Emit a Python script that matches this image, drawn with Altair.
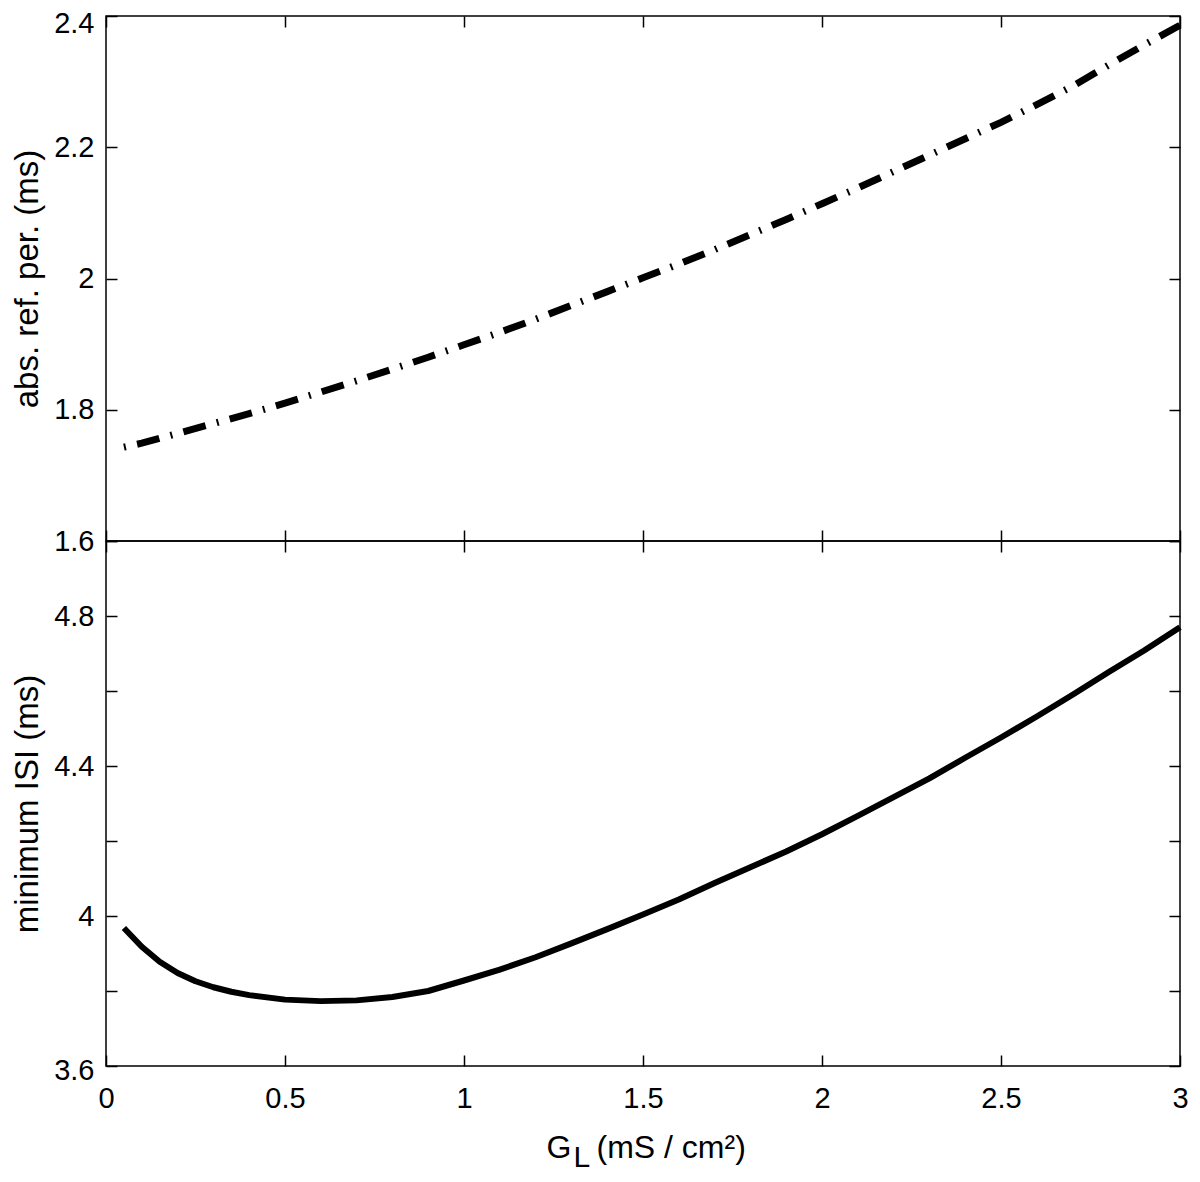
import altair as alt
import pandas as pd

# ---- data ----
gl_top = [0.05, 0.1, 0.2, 0.3, 0.4, 0.5, 0.6, 0.7, 0.8, 0.9, 1.0, 1.1, 1.2, 1.3,
          1.4, 1.5, 1.6, 1.7, 1.8, 1.9, 2.0, 2.1, 2.2, 2.3, 2.4, 2.5, 2.6, 2.7,
          2.8, 2.9, 3.0]
abs_ref = [1.743, 1.749, 1.764, 1.779, 1.794, 1.810, 1.827, 1.844, 1.862, 1.880,
           1.899, 1.918, 1.938, 1.959, 1.980, 2.001, 2.022, 2.044, 2.067, 2.090,
           2.114, 2.138, 2.163, 2.188, 2.213, 2.238, 2.265, 2.293, 2.325, 2.356,
           2.386]

gl_bottom = [0.05, 0.1, 0.15, 0.2, 0.25, 0.3, 0.35, 0.4, 0.5, 0.6, 0.7, 0.8, 0.9,
             1.0, 1.1, 1.2, 1.3, 1.4, 1.5, 1.6, 1.7, 1.8, 1.9, 2.0, 2.1, 2.2,
             2.3, 2.4, 2.5, 2.6, 2.7, 2.8, 2.9, 3.0]
min_isi = [3.968, 3.918, 3.878, 3.848, 3.826, 3.810, 3.798, 3.789, 3.777, 3.773,
           3.775, 3.784, 3.800, 3.828, 3.857, 3.890, 3.927, 3.965, 4.004, 4.044,
           4.088, 4.130, 4.172, 4.218, 4.267, 4.317, 4.367, 4.422, 4.476, 4.532,
           4.590, 4.650, 4.708, 4.770]

x_ticks = [0, 0.5, 1, 1.5, 2, 2.5, 3]
top_ticks = [1.6, 1.8, 2.0, 2.2, 2.4]
bottom_ticks = [3.6, 3.8, 4.0, 4.2, 4.4, 4.6, 4.8, 5.0]
bottom_labels = [3.6, 4.0, 4.4, 4.8]

top_title = "abs. ref. per. (ms)"
bottom_title = "minimum ISI (ms)"
x_title_g = "G"
x_title_sub = "L"
x_title_unit = "(mS / cm\u00b2)"

df_top = pd.DataFrame({"gl": gl_top, "v": abs_ref})
df_bot = pd.DataFrame({"gl": gl_bottom, "v": min_isi})

FONT = "Liberation Sans"
TICK = 11
W, H = 1074, 525

xs = alt.Scale(domain=[0, 3], nice=False, zero=False)
ys_top = alt.Scale(domain=[1.6, 2.4], nice=False, zero=False)
ys_bot = alt.Scale(domain=[3.6, 5.0], nice=False, zero=False)


def axis(orient, values, labels=True, **kw):
    base = dict(orient=orient, values=values, tickSize=TICK, offset=-TICK,
                domain=False, grid=False, labels=labels, tickColor="black",
                tickWidth=1.5, labelFont=FONT, labelFontSize=29,
                labelColor="black", labelOverlap=False, labelFlush=False,
                format="~g", titleFont=FONT, titleColor="black",
                titleFontWeight="normal")
    if not labels:
        base.update(minExtent=0, maxExtent=0)
    base.update(kw)
    if "title" not in base:
        base["title"] = None
    return alt.Axis(**base)


def title_axis(text, size, tx, ty):
    # an x axis that only carries a piece of the x-axis title
    return alt.Axis(orient="bottom", offset=-TICK, domain=False, ticks=False,
                    labels=False, grid=False, minExtent=0, maxExtent=0,
                    title=text, titleFont=FONT, titleFontSize=size,
                    titleColor="black", titleFontWeight="normal",
                    titleAlign="left", titleAnchor="start", titleX=tx,
                    titleY=ty, titleBaseline="alphabetic")


left_kw = dict(labelPadding=12, minExtent=67, maxExtent=67, titlePadding=6,
               titleFontSize=33)

# ---- top panel ----
top_main = alt.Chart(df_top).mark_line(
    color="black", strokeWidth=7, strokeDash=[2, 11.5, 23, 11.5], strokeCap="butt"
).encode(
    x=alt.X("gl:Q", scale=xs, axis=axis("bottom", x_ticks, labels=False)),
    y=alt.Y("v:Q", scale=ys_top,
            axis=axis("left", top_ticks, title=top_title,
                      labelOffset={"condition": {"test": "datum.value == 2.4", "value": 7},
                                   "value": 0},
                      **left_kw)),
)
top_mirror = alt.Chart(df_top).mark_line(strokeOpacity=0).encode(
    x=alt.X("gl:Q", scale=xs, axis=axis("top", x_ticks, labels=False)),
    y=alt.Y("v:Q", scale=ys_top, axis=axis("right", top_ticks, labels=False)),
)
top = alt.layer(top_main, top_mirror).resolve_axis(
    x="independent", y="independent").properties(width=W, height=H)

# ---- bottom panel ----
label_test = " || ".join(f"datum.value == {v}" for v in bottom_labels)
bot_main = alt.Chart(df_bot).mark_line(
    color="black", strokeWidth=6, strokeJoin="round"
).encode(
    x=alt.X("gl:Q", scale=xs,
            axis=axis("bottom", x_ticks, labelPadding=18, title=x_title_g,
                      titleFontSize=32, titleAlign="left", titleAnchor="start",
                      titleX=440, titleY=102, titleBaseline="alphabetic")),
    y=alt.Y("v:Q", scale=ys_bot,
            axis=axis("left", bottom_ticks, title=bottom_title,
                      labelExpr=f"({label_test}) ? datum.label : ''",
                      labelOffset={"condition": {"test": "datum.value == 3.6", "value": 4},
                                   "value": 0},
                      **left_kw)),
)
bot_mirror = alt.Chart(df_bot).mark_line(strokeOpacity=0).encode(
    x=alt.X("gl:Q", scale=xs, axis=axis("top", x_ticks, labels=False)),
    y=alt.Y("v:Q", scale=ys_bot, axis=axis("right", bottom_ticks, labels=False)),
)
bot_sub = alt.Chart(df_bot).mark_line(strokeOpacity=0).encode(
    x=alt.X("gl:Q", scale=xs, axis=title_axis(x_title_sub, 30, 467, 111)),
    y=alt.Y("v:Q", scale=ys_bot, axis=None),
)
bot_unit = alt.Chart(df_bot).mark_line(strokeOpacity=0).encode(
    x=alt.X("gl:Q", scale=xs, axis=title_axis(x_title_unit, 32, 490, 102)),
    y=alt.Y("v:Q", scale=ys_bot, axis=None),
)
bottom = alt.layer(bot_main, bot_mirror, bot_sub, bot_unit).resolve_axis(
    x="independent", y="independent").properties(width=W, height=H)

chart = alt.vconcat(top, bottom, spacing=0, bounds="flush").properties(
    padding={"left": 2, "top": 0, "right": -3, "bottom": 0}
).configure(
    background="white",
    view=alt.ViewConfig(stroke="black", strokeWidth=1.5),
)

chart.save("out.html", embed_options={"renderer": "svg", "actions": False})
